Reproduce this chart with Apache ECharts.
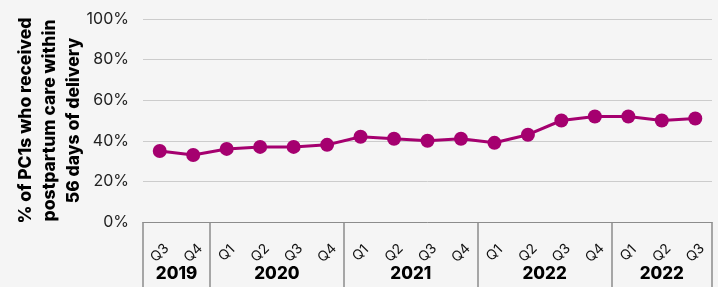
<!DOCTYPE html>
<html>
<head>
<meta charset="utf-8">
<script src="https://cdn.jsdelivr.net/npm/echarts@6/dist/echarts.min.js"></script>
<style>
html,body{margin:0;padding:0;background:#f5f5f5;}
#chart{width:718px;height:287px;}
</style>
</head>
<body>
<div id="chart"></div>
<script>
const quarters = ['Q3','Q4','Q1','Q2','Q3','Q4','Q1','Q2','Q3','Q4','Q1','Q2','Q3','Q4','Q1','Q2','Q3'];
const years = ['2019','2020','2021','2022','2022'];
const quartersPerYear = [2,4,4,4,3];
const values = [35,33,36,37,37,38,42,41,40,41,39,43,50,52,52,50,51];

// derived group boundaries and centers (in category units)
const boundaries = [0];
const centers = [];
quartersPerYear.forEach(n => {
  const start = boundaries[boundaries.length - 1];
  centers.push(start + n / 2);
  boundaries.push(start + n);
});
const total = boundaries[boundaries.length - 1];

const FONT = 'Inter';
const chart = echarts.init(document.getElementById('chart'));
chart.setOption({
  backgroundColor: '#f5f5f5',
  animation: false,
  grid: {left: 143, right: 6, top: 19, bottom: 65, containLabel: false, outerBoundsMode: 'none'},
  xAxis: [
    {
      type: 'category',
      data: quarters,
      boundaryGap: true,
      axisLine: {show: true, lineStyle: {color: '#8c8c8c', width: 1}},
      axisTick: {show: false},
      axisLabel: {
        interval: 0, rotate: 45, margin: 31,
        align: 'center', verticalAlign: 'middle',
        fontFamily: FONT, fontSize: 14, color: '#111'
      },
      splitLine: {show: false}
    },
    {
      type: 'value',
      position: 'bottom',
      min: 0, max: total,
      axisLine: {show: false},
      splitLine: {show: false},
      axisTick: {
        show: true, inside: false, length: 66,
        customValues: boundaries,
        lineStyle: {color: '#8c8c8c', width: 1.5}
      },
      axisLabel: {
        show: true, margin: 43,
        customValues: centers,
        formatter: function (v) {
          const i = centers.findIndex(c => Math.abs(c - v) < 1e-6);
          return i >= 0 ? years[i] : '';
        },
        fontFamily: FONT, fontSize: 17, fontWeight: 800, color: '#000'
      }
    }
  ],
  yAxis: {
    type: 'value',
    min: 0, max: 100, interval: 20,
    axisLine: {show: false},
    axisTick: {show: false},
    axisLabel: {
      formatter: '{value}%', margin: 14,
      fontFamily: FONT, fontSize: 16, color: '#222'
    },
    splitLine: {lineStyle: {color: '#cccccc', width: 1}},
    name: '% of PC1s who received\npostpartum care within\n56 days of delivery',
    nameLocation: 'middle',
    nameRotate: 90,
    nameGap: 57,
    nameMoveOverlap: false,
    nameTextStyle: {
      fontFamily: FONT, fontSize: 17.5, fontWeight: 800, color: '#000',
      lineHeight: 24, align: 'center'
    }
  },
  series: [{
    type: 'line',
    data: values,
    xAxisIndex: 0,
    symbol: 'circle',
    symbolSize: 14,
    lineStyle: {color: '#a5006f', width: 3},
    itemStyle: {color: '#a5006f'}
  }]
});
</script>
</body>
</html>
